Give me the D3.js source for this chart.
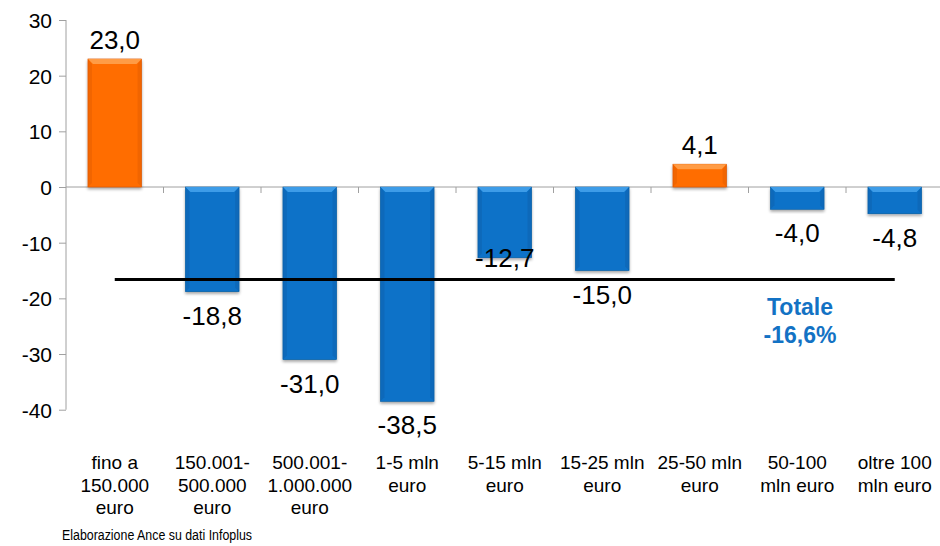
<!DOCTYPE html>
<html>
<head>
<meta charset="utf-8">
<script src="https://cdn.jsdelivr.net/npm/d3@7"></script>
<style>
  body { margin: 0; background: #fff; }
  text { font-family: "Liberation Sans", Arial, Helvetica, sans-serif; }
</style>
</head>
<body>
<div id="chart"></div>
<script>
const categories = [
  ["fino a", "150.000", "euro"],
  ["150.001-", "500.000", "euro"],
  ["500.001-", "1.000.000", "euro"],
  ["1-5 mln", "euro"],
  ["5-15 mln", "euro"],
  ["15-25 mln", "euro"],
  ["25-50 mln", "euro"],
  ["50-100", "mln euro"],
  ["oltre 100", "mln euro"]
]
const values = [23.0, -18.8, -31.0, -38.5, -12.7, -15.0, 4.1, -4.0, -4.8]
const yTicks = [30, 20, 10, 0, -10, -20, -30, -40]
const totale = -16.6
const source = "Elaborazione Ance su dati Infoplus"

let width = 940, height = 546

const svg = d3.select("#chart")
  .append("svg")
  .attr("width", width)
  .attr("height", height)

const defs = svg.append("defs")
const shadow = defs.append("filter").attr("id", "shadow")
  .attr("x", "-20%").attr("y", "-20%").attr("width", "140%").attr("height", "140%")
shadow.append("feGaussianBlur").attr("in", "SourceAlpha").attr("stdDeviation", 1.5)
shadow.append("feOffset").attr("dx", 0).attr("dy", 2).attr("result", "off")
shadow.append("feComponentTransfer").append("feFuncA").attr("type", "linear").attr("slope", 0.35)
const merge = shadow.append("feMerge")
merge.append("feMergeNode")
merge.append("feMergeNode").attr("in", "SourceGraphic")

let x = d3.scaleBand()
  .domain(d3.range(categories.length))
  .range([66, 943.5])
  .paddingInner(0.45)
  .paddingOuter(0.225)

let band = d3.scaleBand()
  .domain(d3.range(categories.length))
  .range([66, 943.5])

let y = d3.scaleLinear()
  .domain([-40, 30])
  .range([409.7, 20])

// y axis
svg.append("g")
  .attr("transform", "translate(66,0)")
  .call(d3.axisLeft(y).tickValues(yTicks).tickSize(7).tickFormat(d => String(d)))
  .call(g => g.select(".domain").attr("stroke", "#a0a0a0").attr("d", "M0," + y(30) + "V" + y(-40)))
  .call(g => g.selectAll(".tick line").attr("stroke", "#a0a0a0"))
  .call(g => g.selectAll(".tick text")
    .attr("x", -14).attr("dy", "0.35em")
    .attr("font-size", "21px").attr("fill", "#000")
    .attr("font-family", "Liberation Sans, Arial, sans-serif"))

// zero line with band ticks
svg.append("line")
  .attr("x1", 66).attr("x2", 943.5)
  .attr("y1", y(0)).attr("y2", y(0))
  .attr("stroke", "#a0a0a0")
svg.append("g").selectAll("line")
  .data(d3.range(1, categories.length + 1))
  .enter().append("line")
  .attr("x1", d => band(d - 1) + band.bandwidth())
  .attr("x2", d => band(d - 1) + band.bandwidth())
  .attr("y1", y(0)).attr("y2", y(0) + 6)
  .attr("stroke", "#a0a0a0")

// bars
const colors = {
  pos: { main: "#ff6d00", light: "#ff9c45", dark: "#d85600" },
  neg: { main: "#0a72c8", light: "#3d9ce8", dark: "#0659a0" }
}
const bars = svg.append("g").selectAll("g")
  .data(values)
  .enter().append("g")
  .attr("filter", "url(#shadow)")

bars.append("rect")
  .attr("x", (d, i) => x(i))
  .attr("y", d => y(Math.max(0, d)))
  .attr("width", x.bandwidth())
  .attr("height", d => Math.abs(y(d) - y(0)))
  .attr("fill", d => d >= 0 ? colors.pos.main : colors.neg.main)
  .attr("stroke", d => d >= 0 ? colors.pos.dark : colors.neg.dark)
  .attr("stroke-width", 0.6)

// bevel on top edge
bars.append("path")
  .attr("d", (d, i) => {
    let x0 = x(i), x1 = x(i) + x.bandwidth(), t = y(Math.max(0, d)), b = 5
    return "M" + x0 + "," + t + "L" + x1 + "," + t + "L" + (x1 - b) + "," + (t + b) + "L" + (x0 + b) + "," + (t + b) + "Z"
  })
  .attr("fill", d => d >= 0 ? colors.pos.light : colors.neg.light)

// side bevels
bars.append("path")
  .attr("d", (d, i) => {
    let x0 = x(i), t = y(Math.max(0, d)), bt = y(Math.min(0, d)), b = 4
    return "M" + x0 + "," + t + "L" + (x0 + b) + "," + (t + 5) + "L" + (x0 + b) + "," + (bt - b) + "L" + x0 + "," + bt + "Z"
  })
  .attr("fill", d => d >= 0 ? colors.pos.dark : colors.neg.dark)
  .attr("opacity", 0.35)
bars.append("path")
  .attr("d", (d, i) => {
    let x1 = x(i) + x.bandwidth(), t = y(Math.max(0, d)), bt = y(Math.min(0, d)), b = 4
    return "M" + x1 + "," + t + "L" + (x1 - b) + "," + (t + 5) + "L" + (x1 - b) + "," + (bt - b) + "L" + x1 + "," + bt + "Z"
  })
  .attr("fill", d => d >= 0 ? colors.pos.dark : colors.neg.dark)
  .attr("opacity", 0.35)

// totale line
svg.append("line")
  .attr("x1", band(0) + band.bandwidth() / 2)
  .attr("x2", band(categories.length - 1) + band.bandwidth() / 2)
  .attr("y1", y(totale)).attr("y2", y(totale))
  .attr("stroke", "#000")
  .attr("stroke-width", 3)

// value labels
const fmt = v => d3.format(".1f")(v).replace(".", ",").replace("−", "-")
svg.append("g").selectAll("text")
  .data(values)
  .enter().append("text")
  .attr("x", (d, i) => x(i) + x.bandwidth() / 2)
  .attr("y", (d, i) => {
    if (d >= 0) return y(d) - 10
    if (i === 4) return y(d) + 9
    return y(d) + 33
  })
  .attr("text-anchor", "middle")
  .attr("font-size", "26px")
  .attr("fill", "#000")
  .text(d => fmt(d))

// totale label
const tot = svg.append("text")
  .attr("x", 800)
  .attr("y", 315)
  .attr("text-anchor", "middle")
  .attr("font-size", "23px")
  .attr("font-weight", "bold")
  .attr("fill", "#1372c4")
tot.append("tspan").attr("x", 800).text("Totale")
tot.append("tspan").attr("x", 800).attr("dy", 28).text(fmt(totale) + "%")

// category labels
const cat = svg.append("g").selectAll("text")
  .data(categories)
  .enter().append("text")
  .attr("text-anchor", "middle")
  .attr("font-size", "19px")
  .attr("fill", "#000")
cat.selectAll("tspan")
  .data((d, i) => d.map(s => ({ s: s, i: i })))
  .enter().append("tspan")
  .attr("x", d => band(d.i) + band.bandwidth() / 2)
  .attr("y", (d, j) => 469 + j * 22.5)
  .text(d => d.s)

// source
svg.append("text")
  .attr("x", 62)
  .attr("y", 540)
  .attr("font-size", "14px")
  .attr("textLength", 190)
  .attr("lengthAdjust", "spacingAndGlyphs")
  .attr("fill", "#000")
  .text(source)
</script>
</body>
</html>
